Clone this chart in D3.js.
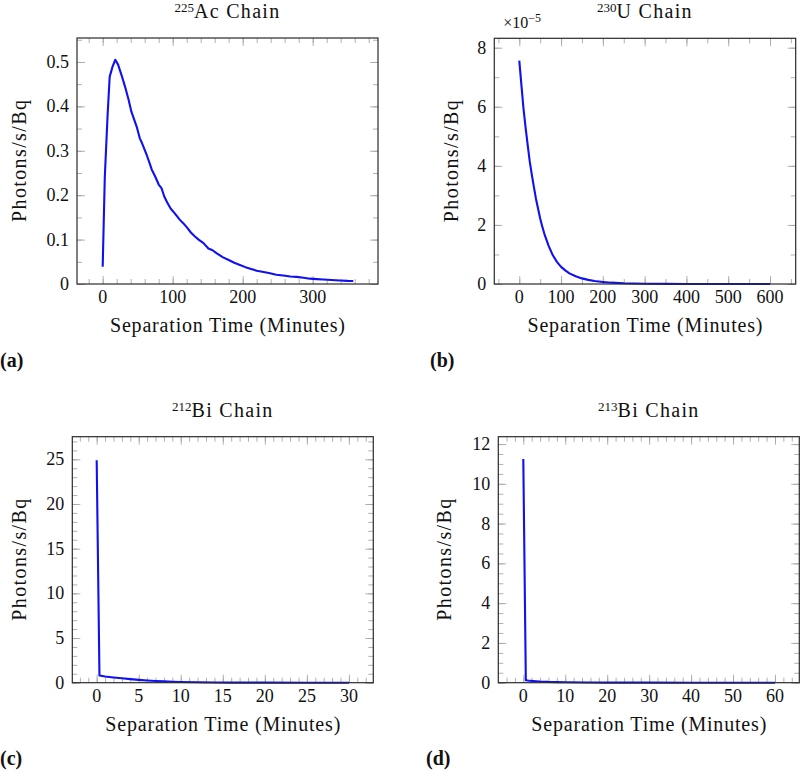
<!DOCTYPE html>
<html><head><meta charset="utf-8">
<script src="https://cdn.jsdelivr.net/npm/d3@7"></script>
<style>
body{margin:0;background:#fff}
svg{display:block}
text{font-family:"Liberation Serif","Times New Roman",serif;fill:#111}
</style>
</head><body>
<svg id="chart" width="800" height="773"></svg>
<script>
// ---------- DATA ----------
// (a) 225Ac chain
const acTime  = [0, 3, 7, 10, 14, 18, 22, 27, 32, 37, 41, 45, 49, 53, 56, 60, 63, 67, 70, 75, 80, 84, 88, 92, 97, 103, 110, 115, 120, 126, 131, 137, 144, 151, 157, 163, 172, 180, 188, 196, 204, 212, 220, 230, 239, 248, 258, 268, 277, 287, 296, 306, 315, 327, 339, 350, 358];
const acValue = [0.039, 0.24, 0.38, 0.467, 0.489, 0.505, 0.494, 0.47, 0.444, 0.415, 0.388, 0.37, 0.352, 0.328, 0.318, 0.302, 0.29, 0.272, 0.258, 0.242, 0.224, 0.216, 0.197, 0.184, 0.170, 0.159, 0.145, 0.137, 0.128, 0.116, 0.108, 0.100, 0.092, 0.080, 0.076, 0.069, 0.060, 0.054, 0.048, 0.043, 0.038, 0.034, 0.030, 0.027, 0.024, 0.021, 0.019, 0.017, 0.016, 0.014, 0.012, 0.011, 0.010, 0.009, 0.0078, 0.007, 0.0068];
const acXTicks = [0, 100, 200, 300];
const acYTicks = [0, 0.1, 0.2, 0.3, 0.4, 0.5];

// (b) 230U chain
const uTime  = [0, 5, 10, 15, 20, 25, 30, 35, 40, 45, 50, 55, 60, 70, 80, 90, 100, 110, 120, 135, 150, 165, 180, 200, 220, 250, 300, 350, 400, 500, 600];
const uValue = [7.56e-5, 6.75e-5, 5.95e-5, 5.30e-5, 4.72e-5, 4.15e-5, 3.70e-5, 3.28e-5, 2.88e-5, 2.55e-5, 2.22e-5, 1.95e-5, 1.70e-5, 1.30e-5, 0.98e-5, 0.75e-5, 0.58e-5, 0.46e-5, 0.36e-5, 0.26e-5, 0.19e-5, 0.14e-5, 0.10e-5, 0.07e-5, 0.045e-5, 0.025e-5, 0.01e-5, 0.004e-5, 0.002e-5, 0.0005e-5, 0.0001e-5];
const uXTicks = [0, 100, 200, 300, 400, 500, 600];
const uYTicks = [0, 2e-5, 4e-5, 6e-5, 8e-5];
const uYTickLabels = ["0", "2", "4", "6", "8"];

// (c) 212Bi chain
const bi212Time  = [0, 0.33, 1, 2, 3, 4, 5, 6, 7, 8, 9, 10, 12, 14, 16, 18, 20, 25, 30];
const bi212Value = [24.9, 0.80, 0.70, 0.59, 0.49, 0.40, 0.32, 0.25, 0.19, 0.145, 0.11, 0.08, 0.045, 0.025, 0.014, 0.008, 0.005, 0.001, 0.0003];
const bi212XTicks = [0, 5, 10, 15, 20, 25, 30];
const bi212YTicks = [0, 5, 10, 15, 20, 25];

// (d) 213Bi chain
const bi213Time  = [0, 0.6, 1, 2, 3, 4, 5, 6, 8, 10, 15, 20, 30, 40, 50, 60];
const bi213Value = [11.25, 0.13, 0.11, 0.09, 0.075, 0.06, 0.05, 0.04, 0.03, 0.02, 0.01, 0.005, 0.002, 0.001, 0.0005, 0.0002];
const bi213XTicks = [0, 10, 20, 30, 40, 50, 60];
const bi213YTicks = [0, 2, 4, 6, 8, 10, 12];

// ---------- DRAW ----------
const svg = d3.select("#chart");
const TICK_COLOR = "#a8a8a8";

function panel(cfg) {
  const x = d3.scaleLinear().domain(cfg.xDomain).range([cfg.left, cfg.right]);
  const y = d3.scaleLinear().domain(cfg.yDomain).range([cfg.bottom, cfg.top]);
  const g = svg.append("g");

  const xMinor = d3.range(cfg.xMinor[0], cfg.xDomain[1], cfg.xMinor[1]).filter(v => v >= cfg.xDomain[0]);
  const yMinor = d3.range(cfg.yMinor[0], cfg.yDomain[1], cfg.yMinor[1]).filter(v => v >= cfg.yDomain[0]);

  function tickAxis(axisFn, scale, values, size, transform) {
    const a = g.append("g").attr("transform", transform)
      .call(axisFn(scale).tickValues(values).tickSize(-size).tickFormat(""));
    a.select(".domain").remove();
    a.selectAll("line").attr("stroke", TICK_COLOR).attr("stroke-width", 0.9);
  }
  // minor ticks, all four sides
  tickAxis(d3.axisBottom, x, xMinor, 5, `translate(0,${cfg.bottom})`);
  tickAxis(d3.axisTop, x, xMinor, 5, `translate(0,${cfg.top})`);
  tickAxis(d3.axisLeft, y, yMinor, 5, `translate(${cfg.left},0)`);
  tickAxis(d3.axisRight, y, yMinor, 5, `translate(${cfg.right},0)`);
  // major ticks
  tickAxis(d3.axisBottom, x, cfg.xTicks, 8, `translate(0,${cfg.bottom})`);
  tickAxis(d3.axisTop, x, cfg.xTicks, 8, `translate(0,${cfg.top})`);
  tickAxis(d3.axisLeft, y, cfg.yTicks, 8, `translate(${cfg.left},0)`);
  tickAxis(d3.axisRight, y, cfg.yTicks, 8, `translate(${cfg.right},0)`);

  // tick labels
  g.selectAll(".xl").data(cfg.xTicks).join("text")
    .attr("x", d => x(d)).attr("y", cfg.bottom + 19)
    .attr("text-anchor", "middle").attr("font-size", 18)
    .text(d => String(d));
  g.selectAll(".yl").data(cfg.yTicks).join("text")
    .attr("x", cfg.left - 8).attr("y", d => y(d) + 6)
    .attr("text-anchor", "end").attr("font-size", 18)
    .text((d, i) => cfg.yLabels ? cfg.yLabels[i] : String(d));

  // data line
  const line = d3.line().x(d => x(d[0])).y(d => y(d[1]));
  g.append("path").datum(d3.zip(cfg.time, cfg.value))
    .attr("d", line).attr("fill", "none")
    .attr("stroke", "#1010f0").attr("stroke-width", 2.1)
    .attr("stroke-linejoin", "round");

  // frame
  g.append("rect").attr("x", cfg.left).attr("y", cfg.top)
    .attr("width", cfg.right - cfg.left).attr("height", cfg.bottom - cfg.top)
    .attr("fill", "none").attr("stroke", "#2a2a2a").attr("stroke-width", 1.2);

  const cx = (cfg.left + cfg.right) / 2;
  // title
  const t = g.append("text").attr("x", cx).attr("y", cfg.top - 20)
    .attr("text-anchor", "middle").attr("font-size", 20);
  t.append("tspan").attr("font-size", 13).attr("dy", -6).text(cfg.sup);
  t.append("tspan").attr("dy", 6).attr("letter-spacing", 1.3).text(cfg.titleText);

  // x label
  g.append("text").attr("x", cx).attr("y", cfg.bottom + 48)
    .attr("text-anchor", "middle").attr("font-size", 20)
    .attr("textLength", 235).attr("lengthAdjust", "spacing")
    .text("Separation Time (Minutes)");
  // y label
  const cy = (cfg.top + cfg.bottom) / 2;
  g.append("text").attr("transform", `translate(${cfg.yLabelX},${cy}) rotate(-90)`)
    .attr("text-anchor", "middle").attr("font-size", 20)
    .attr("textLength", 122).attr("lengthAdjust", "spacing")
    .text("Photons/s/Bq");

  // sub label
  g.append("text").attr("x", cfg.subX).attr("y", cfg.subY)
    .attr("font-size", 20).attr("font-weight", "bold").text(cfg.sub);

  if (cfg.multiplier) {
    const m = g.append("text").attr("x", cfg.left + 9).attr("y", cfg.top - 10)
      .attr("font-size", 16);
    m.append("tspan").text("×10");
    m.append("tspan").attr("font-size", 12).attr("dy", -6).text("−5");
  }
}

panel({ time: acTime, value: acValue, xTicks: acXTicks, yTicks: acYTicks,
  xDomain: [-36.7, 393.3], yDomain: [0, 0.554], xMinor: [-20, 20], yMinor: [0, 0.05],
  left: 77, right: 378, top: 38, bottom: 284, yLabelX: 26,
  sup: "225", titleText: "Ac Chain", sub: "(a)", subX: 0, subY: 367 });

panel({ time: uTime, value: uValue, xTicks: uXTicks, yTicks: uYTicks, yLabels: uYTickLabels,
  xDomain: [-59.8, 661.5], yDomain: [0, 8.318e-5], xMinor: [-50, 50], yMinor: [0, 1e-5],
  left: 494.3, right: 795.7, top: 38.3, bottom: 284, yLabelX: 458,
  sup: "230", titleText: "U Chain", sub: "(b)", subX: 430, subY: 367, multiplier: true });

panel({ time: bi212Time, value: bi212Value, xTicks: bi212XTicks, yTicks: bi212YTicks,
  xDomain: [-2.9, 32.9], yDomain: [0, 27.53], xMinor: [-2, 1], yMinor: [0, 1],
  left: 72.3, right: 373.3, top: 436.7, bottom: 682.7, yLabelX: 26,
  sup: "212", titleText: "Bi Chain", sub: "(c)", subX: 0, subY: 765 });

panel({ time: bi213Time, value: bi213Value, xTicks: bi213XTicks, yTicks: bi213YTicks,
  xDomain: [-5.96, 65.8], yDomain: [0, 12.37], xMinor: [-4, 2], yMinor: [0, 0.5],
  left: 498.3, right: 799.3, top: 436.7, bottom: 682.7, yLabelX: 451,
  sup: "213", titleText: "Bi Chain", sub: "(d)", subX: 426, subY: 765 });
</script>
</body></html>
